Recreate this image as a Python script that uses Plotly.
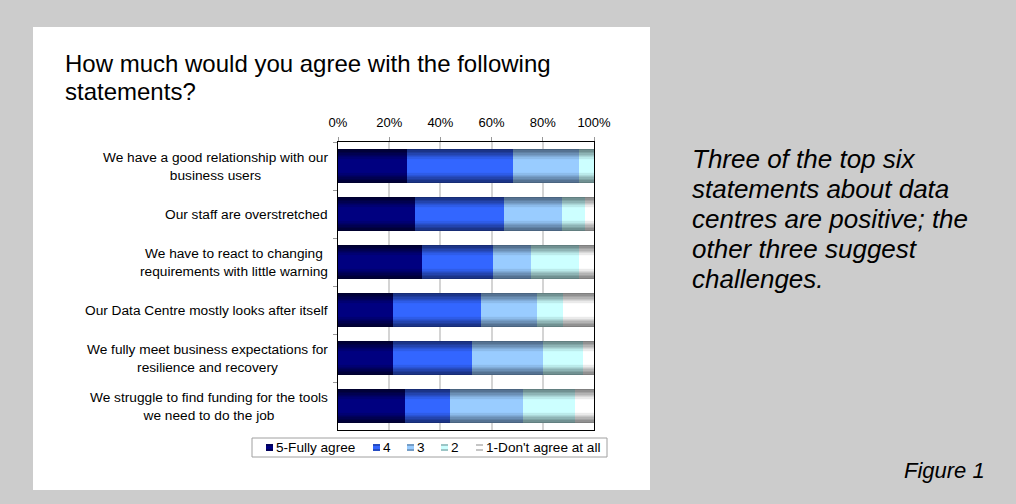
import numpy as np
import plotly.graph_objects as go

# ---- data -------------------------------------------------------------
statements = [
    "We have a good relationship with our<br>business users",
    "Our staff are overstretched",
    "We have to react to changing<br>requirements with little warning",
    "Our Data Centre mostly looks after itself",
    "We fully meet business expectations for<br>resilience and recovery",
    "We struggle to find funding for the tools<br>we need to do the job",
]
fully_agree = [27.1, 30.0, 32.7, 21.6, 21.6, 26.1]
agree_4 = [41.1, 34.8, 27.8, 34.2, 30.7, 17.6]
agree_3 = [25.9, 22.7, 14.9, 21.9, 27.8, 28.5]
agree_2 = [5.9, 9.0, 18.7, 10.2, 15.6, 20.4]
not_at_all = [0.0, 3.5, 5.9, 12.1, 4.3, 7.4]
series_names = ["5-Fully agree", "4", "3", "2", "1-Don't agree at all"]
pct_ticks = [0, 20, 40, 60, 80, 100]
pct_labels = ["0%", "20%", "40%", "60%", "80%", "100%"]
note_lines = [
    "Three of the top six",
    "statements about data",
    "centres are positive; the",
    "other three suggest",
    "challenges.",
]

# ---- styling ----------------------------------------------------------
FONT = "Liberation Sans, Arial, sans-serif"
W, H = 1016, 504
L, R, T, B = 338, 594, 142, 430          # plot area in pixels
BAR_W = 0.71
N_LAYERS = 12
centre_cols = ["#000080", "#3366ff", "#99ccff", "#ccffff", "#ffffff"]
edge_cols = ["#00002e", "#172c75", "#4a6480", "#627f80", "#7f7f7f"]


def px(x):
    return (x - L) / (R - L)


def py(y):
    return (B - y) / (B - T)


def hex2rgb(h):
    h = h.lstrip("#")
    return np.array([int(h[i:i + 2], 16) for i in (0, 2, 4)], dtype=float)


def mix(a, b, t):
    c = hex2rgb(a) * (1 - t) + hex2rgb(b) * t
    return "rgb(%d,%d,%d)" % tuple(np.round(c).astype(int))


fig = go.Figure()

# stacked bars, each segment shaded by overlaying progressively thinner bars
values = [fully_agree, agree_4, agree_3, agree_2, not_at_all]
cum = np.zeros(len(statements))
for name, vals, cc, ec in zip(series_names, values, centre_cols, edge_cols):
    vals = np.array(vals, dtype=float)
    for k in range(N_LAYERS):
        w = BAR_W * (1 - k / N_LAYERS)
        t = min(1.0, k / (N_LAYERS * 0.6))
        fig.add_trace(go.Bar(
            y=statements, x=vals, base=cum.copy(), orientation="h",
            width=w, name=name, showlegend=False, hoverinfo="skip",
            marker=dict(color=mix(ec, cc, t), line=dict(width=0)),
        ))
    cum += vals

shapes = [
    # white chart panel on the grey page
    dict(type="rect", xref="paper", yref="paper", layer="below",
         x0=px(33), x1=px(650), y0=py(490), y1=py(27),
         fillcolor="white", line=dict(width=0)),
    # legend frame
    dict(type="rect", xref="paper", yref="paper",
         x0=px(252), x1=px(607), y0=py(457), y1=py(438),
         fillcolor="white", line=dict(color="#a0a0a0", width=1)),
]

annotations = []
# title
annotations.append(dict(text="How much would you agree with the following",
                        xref="paper", yref="paper", x=px(63), y=py(63.5),
                        xanchor="left", yanchor="middle", showarrow=False,
                        font=dict(family=FONT, size=24, color="black")))
annotations.append(dict(text="statements?",
                        xref="paper", yref="paper", x=px(63), y=py(91.5),
                        xanchor="left", yanchor="middle", showarrow=False,
                        font=dict(family=FONT, size=24, color="black")))

# category labels, centred lines, right-aligned to the axis
for s in statements:
    annotations.append(dict(text=s, xref="paper", yref="y", x=0, y=s,
                            xanchor="right", yanchor="middle", xshift=-8,
                            align="center", showarrow=False,
                            font=dict(family=FONT, size=13.7, color="black")))

# legend entries
leg_marker_x = [266, 373, 407, 441, 476]
leg_text_x = [274, 381, 415, 449, 484]
for name, mx, tx, cc, ec in zip(series_names, leg_marker_x, leg_text_x,
                                centre_cols, edge_cols):
    shapes.append(dict(type="rect", xref="paper", yref="paper",
                       x0=px(mx), x1=px(mx + 7), y0=py(451), y1=py(444),
                       fillcolor=mix(ec, cc, 0.55), line=dict(width=0)))
    shapes.append(dict(type="rect", xref="paper", yref="paper",
                       x0=px(mx), x1=px(mx + 7), y0=py(449), y1=py(446),
                       fillcolor=cc, line=dict(width=0)))
    annotations.append(dict(text=name, xref="paper", yref="paper",
                            x=px(tx), y=py(447.5), xanchor="left",
                            yanchor="middle", showarrow=False,
                            font=dict(family=FONT, size=13.6, color="black")))

# side note
for i, line in enumerate(note_lines):
    annotations.append(dict(text="<i>%s</i>" % line, xref="paper", yref="paper",
                            x=px(690), y=py(159 + 30 * i), xanchor="left",
                            yanchor="middle", showarrow=False,
                            font=dict(family=FONT, size=26, color="black")))
annotations.append(dict(text="<i>Figure 1</i>", xref="paper", yref="paper",
                        x=px(902), y=py(470.5), xanchor="left",
                        yanchor="middle", showarrow=False,
                        font=dict(family=FONT, size=22, color="black")))

fig.update_layout(
    width=W, height=H,
    margin=dict(l=L, r=W - R, t=T, b=H - B, pad=0),
    paper_bgcolor="#cccccc", plot_bgcolor="white",
    barmode="overlay", bargap=0,
    showlegend=False,
    font=dict(family=FONT, size=13, color="black"),
    shapes=shapes, annotations=annotations,
    xaxis=dict(range=[0, 100], side="top", tickmode="array",
               tickvals=pct_ticks, ticktext=pct_labels,
               tickfont=dict(family=FONT, size=13, color="black"),
               ticklabelstandoff=5,
               showgrid=True, gridcolor="#d4d4d4", gridwidth=1.5,
               showline=True, linecolor="black", linewidth=1, mirror=True,
               ticks="outside", ticklen=4, tickcolor="#999999",
               zeroline=False, fixedrange=True),
    yaxis=dict(type="category", categoryorder="array",
               categoryarray=statements, range=[5.5, -0.5],
               showticklabels=False, ticks="outside", tickson="boundaries",
               ticklen=4, tickcolor="#999999", showgrid=False,
               showline=True, linecolor="black", linewidth=1, mirror=True,
               zeroline=False, fixedrange=True),
)

fig.write_html("out.html")
